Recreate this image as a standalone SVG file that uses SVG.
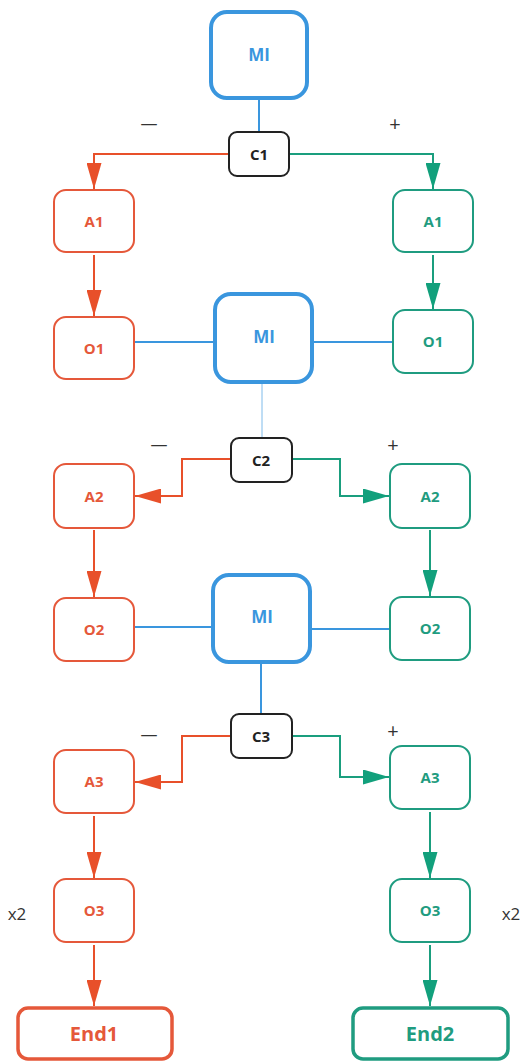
<svg xmlns="http://www.w3.org/2000/svg" width="526" height="1061" viewBox="0 0 526 1061">
<style>
.bg{fill:#ffffff}
.n rect{fill:#ffffff}
.red rect{stroke:#e5583a;stroke-width:2}
.grn rect{stroke:#1f9c80;stroke-width:2}
.mi rect{stroke:#3a96de;stroke-width:4}
.c rect{stroke:#222222;stroke-width:2}
.endr rect{stroke:#e5583a;stroke-width:3.5}
.endg rect{stroke:#1f9c80;stroke-width:3.5}
text{font-family:"Open Sans","Liberation Sans",sans-serif;font-weight:700;text-anchor:middle;dominant-baseline:central}
.red text,.endr text{fill:#e5583a}
.grn text,.endg text{fill:#1f9c80}
.mi text{fill:#3a96de;font-size:17px}
.c text{fill:#222222;font-size:15px}
.red text,.grn text{font-size:15px}
.endr text,.endg text{font-size:20px}
.lab{font-weight:400;fill:#333333;font-size:17px}
.plus{font-size:20px}
.lr{fill:none;stroke:#e8502a;stroke-width:2}
.lg{fill:none;stroke:#1a9e7e;stroke-width:2}
.lb{fill:none;stroke:#3a96de;stroke-width:2}
.lbt{fill:none;stroke:#7fbbea;stroke-width:1}
</style>
<defs>
<marker id="ar" markerUnits="userSpaceOnUse" markerWidth="26" markerHeight="15" refX="26" refY="7.5" orient="auto"><path d="M0,0 L26,7.5 L0,15 z" fill="#e8502a"/></marker>
<marker id="ag" markerUnits="userSpaceOnUse" markerWidth="26" markerHeight="15" refX="26" refY="7.5" orient="auto"><path d="M0,0 L26,7.5 L0,15 z" fill="#12a07c"/></marker>
</defs>
<rect class="bg" x="0" y="0" width="526" height="1061"/>

<g id="connectors">
<line class="lb" x1="259" y1="100" x2="259" y2="132"/>
<polyline class="lr" points="229,154 94,154 94,189" marker-end="url(#ar)"/>
<polyline class="lg" points="290,154 433,154 433,189" marker-end="url(#ag)"/>
<line class="lr" x1="94" y1="255" x2="94" y2="316" marker-end="url(#ar)"/>
<line class="lg" x1="433" y1="255" x2="433" y2="309" marker-end="url(#ag)"/>
<line class="lb" x1="134" y1="342" x2="215" y2="342"/>
<line class="lb" x1="312" y1="342" x2="393" y2="342"/>
<line class="lbt" x1="262" y1="384" x2="262" y2="438"/>
<polyline class="lr" points="231,459 182,459 182,496 135,496" marker-end="url(#ar)"/>
<polyline class="lg" points="293,459 340,459 340,496 389,496" marker-end="url(#ag)"/>
<line class="lr" x1="94" y1="530" x2="94" y2="597" marker-end="url(#ar)"/>
<line class="lg" x1="430" y1="530" x2="430" y2="596" marker-end="url(#ag)"/>
<line class="lb" x1="134" y1="627" x2="213" y2="627"/>
<line class="lb" x1="312" y1="629" x2="390" y2="629"/>
<line class="lb" x1="261" y1="664" x2="261" y2="714"/>
<polyline class="lr" points="231,736 182,736 182,782 135,782" marker-end="url(#ar)"/>
<polyline class="lg" points="293,736 340,736 340,777 389,777" marker-end="url(#ag)"/>
<line class="lr" x1="94" y1="816" x2="94" y2="878" marker-end="url(#ar)"/>
<line class="lg" x1="430" y1="812" x2="430" y2="878" marker-end="url(#ag)"/>
<line class="lr" x1="94" y1="945" x2="94" y2="1006" marker-end="url(#ar)"/>
<line class="lg" x1="430" y1="945" x2="430" y2="1006" marker-end="url(#ag)"/>
</g>

<g id="labels">
<text class="lab" x="149" y="122">—</text>
<text class="lab plus" x="395" y="123">+</text>
<text class="lab" x="159" y="443">—</text>
<text class="lab plus" x="393" y="444">+</text>
<text class="lab" x="149" y="733">—</text>
<text class="lab plus" x="393" y="730">+</text>
<text class="lab" x="17" y="913">x2</text>
<text class="lab" x="511" y="913">x2</text>
</g>

<g id="mi1" class="n mi"><rect x="211" y="12" width="96" height="86" rx="16"/><text x="259" y="54">MI</text></g>
<g id="c1" class="n c"><rect x="229" y="132" width="60" height="44" rx="8"/><text x="259" y="154">C1</text></g>
<g id="a1r" class="n red"><rect x="54" y="190" width="80" height="62" rx="12"/><text x="94" y="221">A1</text></g>
<g id="a1g" class="n grn"><rect x="393" y="190" width="80" height="62" rx="12"/><text x="433" y="221">A1</text></g>
<g id="o1r" class="n red"><rect x="54" y="317" width="80" height="62" rx="12"/><text x="94" y="348">O1</text></g>
<g id="o1g" class="n grn"><rect x="393" y="310" width="80" height="63" rx="12"/><text x="433" y="341">O1</text></g>
<g id="mi2" class="n mi"><rect x="215" y="294" width="97" height="88" rx="16"/><text x="264" y="336">MI</text></g>
<g id="c2" class="n c"><rect x="231" y="438" width="61" height="44" rx="8"/><text x="261" y="460">C2</text></g>
<g id="a2r" class="n red"><rect x="54" y="464" width="80" height="64" rx="12"/><text x="94" y="496">A2</text></g>
<g id="a2g" class="n grn"><rect x="390" y="464" width="80" height="64" rx="12"/><text x="430" y="496">A2</text></g>
<g id="o2r" class="n red"><rect x="54" y="598" width="80" height="63" rx="12"/><text x="94" y="629">O2</text></g>
<g id="o2g" class="n grn"><rect x="390" y="597" width="80" height="63" rx="12"/><text x="430" y="628">O2</text></g>
<g id="mi3" class="n mi"><rect x="213" y="575" width="97" height="87" rx="16"/><text x="262" y="616">MI</text></g>
<g id="c3" class="n c"><rect x="231" y="714" width="61" height="44" rx="8"/><text x="261" y="736">C3</text></g>
<g id="a3r" class="n red"><rect x="54" y="750" width="80" height="63" rx="12"/><text x="94" y="781">A3</text></g>
<g id="a3g" class="n grn"><rect x="390" y="746" width="80" height="63" rx="12"/><text x="430" y="777">A3</text></g>
<g id="o3r" class="n red"><rect x="54" y="879" width="80" height="63" rx="12"/><text x="94" y="910">O3</text></g>
<g id="o3g" class="n grn"><rect x="390" y="879" width="80" height="63" rx="12"/><text x="430" y="910">O3</text></g>
<g id="end1" class="n endr"><rect x="18" y="1008" width="154" height="51" rx="10"/><text x="94" y="1033">End1</text></g>
<g id="end2" class="n endg"><rect x="353" y="1008" width="155" height="51" rx="10"/><text x="430" y="1033">End2</text></g>
</svg>
